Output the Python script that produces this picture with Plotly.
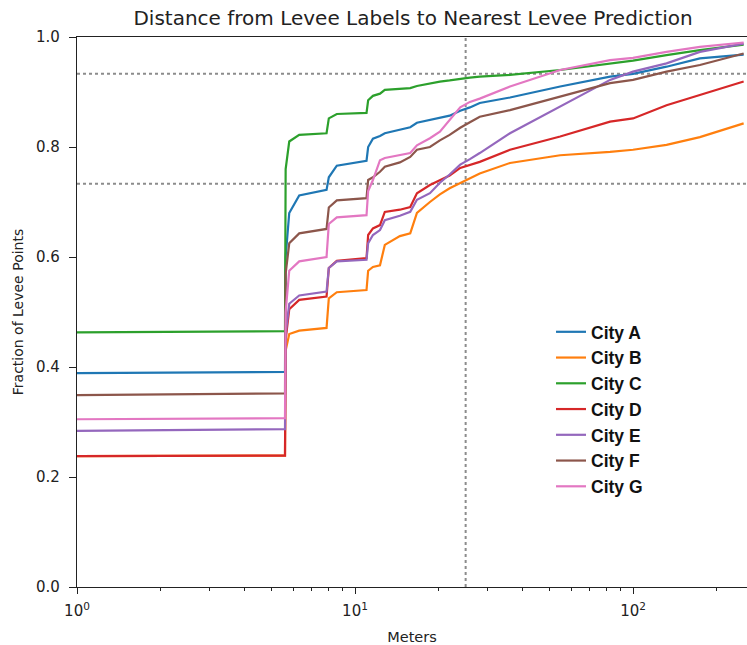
import plotly.graph_objects as go

meters = [1, 5.6, 5.63, 5.8, 6.3, 7.9, 8.05, 8.6, 11.0, 11.15, 11.6, 12.3, 12.8,
          14.5, 15.8, 16.7, 18.6, 20.2, 21.9, 23.9, 25.9, 28.1, 36.1, 54.7, 82.7,
          100, 132, 174, 250]

city_a = [0.389, 0.391, 0.60, 0.68, 0.712, 0.722, 0.745, 0.766, 0.775, 0.800, 0.815, 0.820, 0.825,
          0.831, 0.836, 0.844, 0.849, 0.852, 0.857, 0.866, 0.872, 0.880, 0.890, 0.910, 0.928,
          0.933, 0.946, 0.961, 0.968]
city_b = [0.238, 0.239, 0.43, 0.46, 0.466, 0.471, 0.525, 0.536, 0.540, 0.575, 0.582, 0.585, 0.622,
          0.638, 0.643, 0.680, 0.700, 0.714, 0.725, 0.735, 0.743, 0.752, 0.771, 0.785, 0.791,
          0.795, 0.804, 0.818, 0.843]
city_c = [0.463, 0.465, 0.76, 0.81, 0.822, 0.825, 0.852, 0.860, 0.862, 0.885, 0.893, 0.897, 0.904,
          0.905, 0.907, 0.911, 0.916, 0.919, 0.921, 0.924, 0.926, 0.928, 0.931, 0.940, 0.952,
          0.957, 0.967, 0.976, 0.986]
city_d = [0.238, 0.239, 0.45, 0.505, 0.522, 0.528, 0.580, 0.593, 0.598, 0.640, 0.652, 0.658, 0.682,
          0.686, 0.691, 0.716, 0.731, 0.740, 0.748, 0.762, 0.768, 0.773, 0.795, 0.819, 0.846,
          0.852, 0.876, 0.895, 0.919]
city_e = [0.284, 0.287, 0.46, 0.515, 0.530, 0.537, 0.580, 0.592, 0.595, 0.625, 0.640, 0.649, 0.667,
          0.675, 0.682, 0.704, 0.716, 0.735, 0.750, 0.768, 0.778, 0.789, 0.825, 0.873, 0.922,
          0.937, 0.952, 0.973, 0.988]
city_f = [0.349, 0.352, 0.57, 0.625, 0.643, 0.651, 0.690, 0.703, 0.707, 0.740, 0.745, 0.755, 0.764,
          0.772, 0.782, 0.795, 0.800, 0.812, 0.822, 0.835, 0.845, 0.855, 0.867, 0.891, 0.916,
          0.922, 0.937, 0.949, 0.970]
city_g = [0.305, 0.307, 0.50, 0.575, 0.592, 0.600, 0.660, 0.672, 0.676, 0.720, 0.740, 0.776, 0.780,
          0.785, 0.789, 0.803, 0.816, 0.828, 0.850, 0.872, 0.882, 0.888, 0.910, 0.940, 0.958,
          0.962, 0.973, 0.982, 0.990]

names = ["City A", "City B", "City C", "City D", "City E", "City F", "City G"]
series = [city_a, city_b, city_c, city_d, city_e, city_f, city_g]
colors = ["#1f77b4", "#ff7f0e", "#2ca02c", "#d62728", "#9467bd", "#8c564b", "#e377c2"]

ref_x = 25
ref_y = [0.933, 0.733]

x_ticks = [1, 10, 100]
x_ticktext = ["10<sup>0</sup>", "10<sup>1</sup>", "10<sup>2</sup>"]
x_minor = [2, 3, 4, 5, 6, 7, 8, 9, 20, 30, 40, 50, 60, 70, 80, 90, 200]
y_ticks = [0.0, 0.2, 0.4, 0.6, 0.8, 1.0]

fig = go.Figure()
for name, ys, c in zip(names, series, colors):
    fig.add_trace(go.Scatter(x=meters, y=ys, mode="lines", name=name,
                             line=dict(color=c, width=2.2)))

for yv in ref_y:
    fig.add_shape(type="line", xref="paper", yref="y", x0=0, x1=1, y0=yv, y1=yv,
                  line=dict(color="#8c8c8c", width=2, dash="dot"), layer="below")
fig.add_shape(type="line", xref="x", yref="paper", x0=ref_x, x1=ref_x, y0=0, y1=1,
              line=dict(color="#8c8c8c", width=2, dash="dot"), layer="below")

font_family = "DejaVu Sans"
fig.update_layout(
    width=747, height=645,
    margin=dict(l=77, r=0, t=37, b=58),
    paper_bgcolor="white", plot_bgcolor="white",
    title=dict(text="Distance from Levee Labels to Nearest Levee Prediction",
               x=0.553, xanchor="center", y=0.972, yanchor="middle",
               font=dict(family=font_family, size=20, color="#222")),
    showlegend=True,
    legend=dict(x=0.7075, y=0.4965, xanchor="left", yanchor="top",
                bgcolor="rgba(0,0,0,0)",
                font=dict(family="Liberation Sans, Arial", size=17.5, color="#111",
                          weight="bold"),
                tracegroupgap=0, itemwidth=30),
    xaxis=dict(type="log", range=[0, 2.41], showgrid=False, zeroline=False,
               showline=True, linecolor="#222", linewidth=1.2, mirror=True,
               ticks="outside", ticklen=6, tickcolor="#222",
               tickvals=x_ticks, ticktext=x_ticktext,
               minor=dict(tickvals=x_minor, ticks="outside", ticklen=3, tickcolor="#222"),
               tickfont=dict(family=font_family, size=15, color="#222"),
               ticklabelstandoff=4,
               title=dict(text="Meters", font=dict(family=font_family, size=14.5, color="#222"),
                          standoff=12)),
    yaxis=dict(range=[0, 1], showgrid=False, zeroline=False,
               showline=True, linecolor="#222", linewidth=1.2,
               ticks="outside", ticklen=7, tickcolor="#222",
               tickvals=y_ticks, tickformat=".1f",
               ticklabelstandoff=6,
               tickfont=dict(family=font_family, size=15, color="#222"),
               title=dict(text="Fraction of Levee Points",
                          font=dict(family=font_family, size=14, color="#222"), standoff=9)),
)

fig.write_html("out.html")
